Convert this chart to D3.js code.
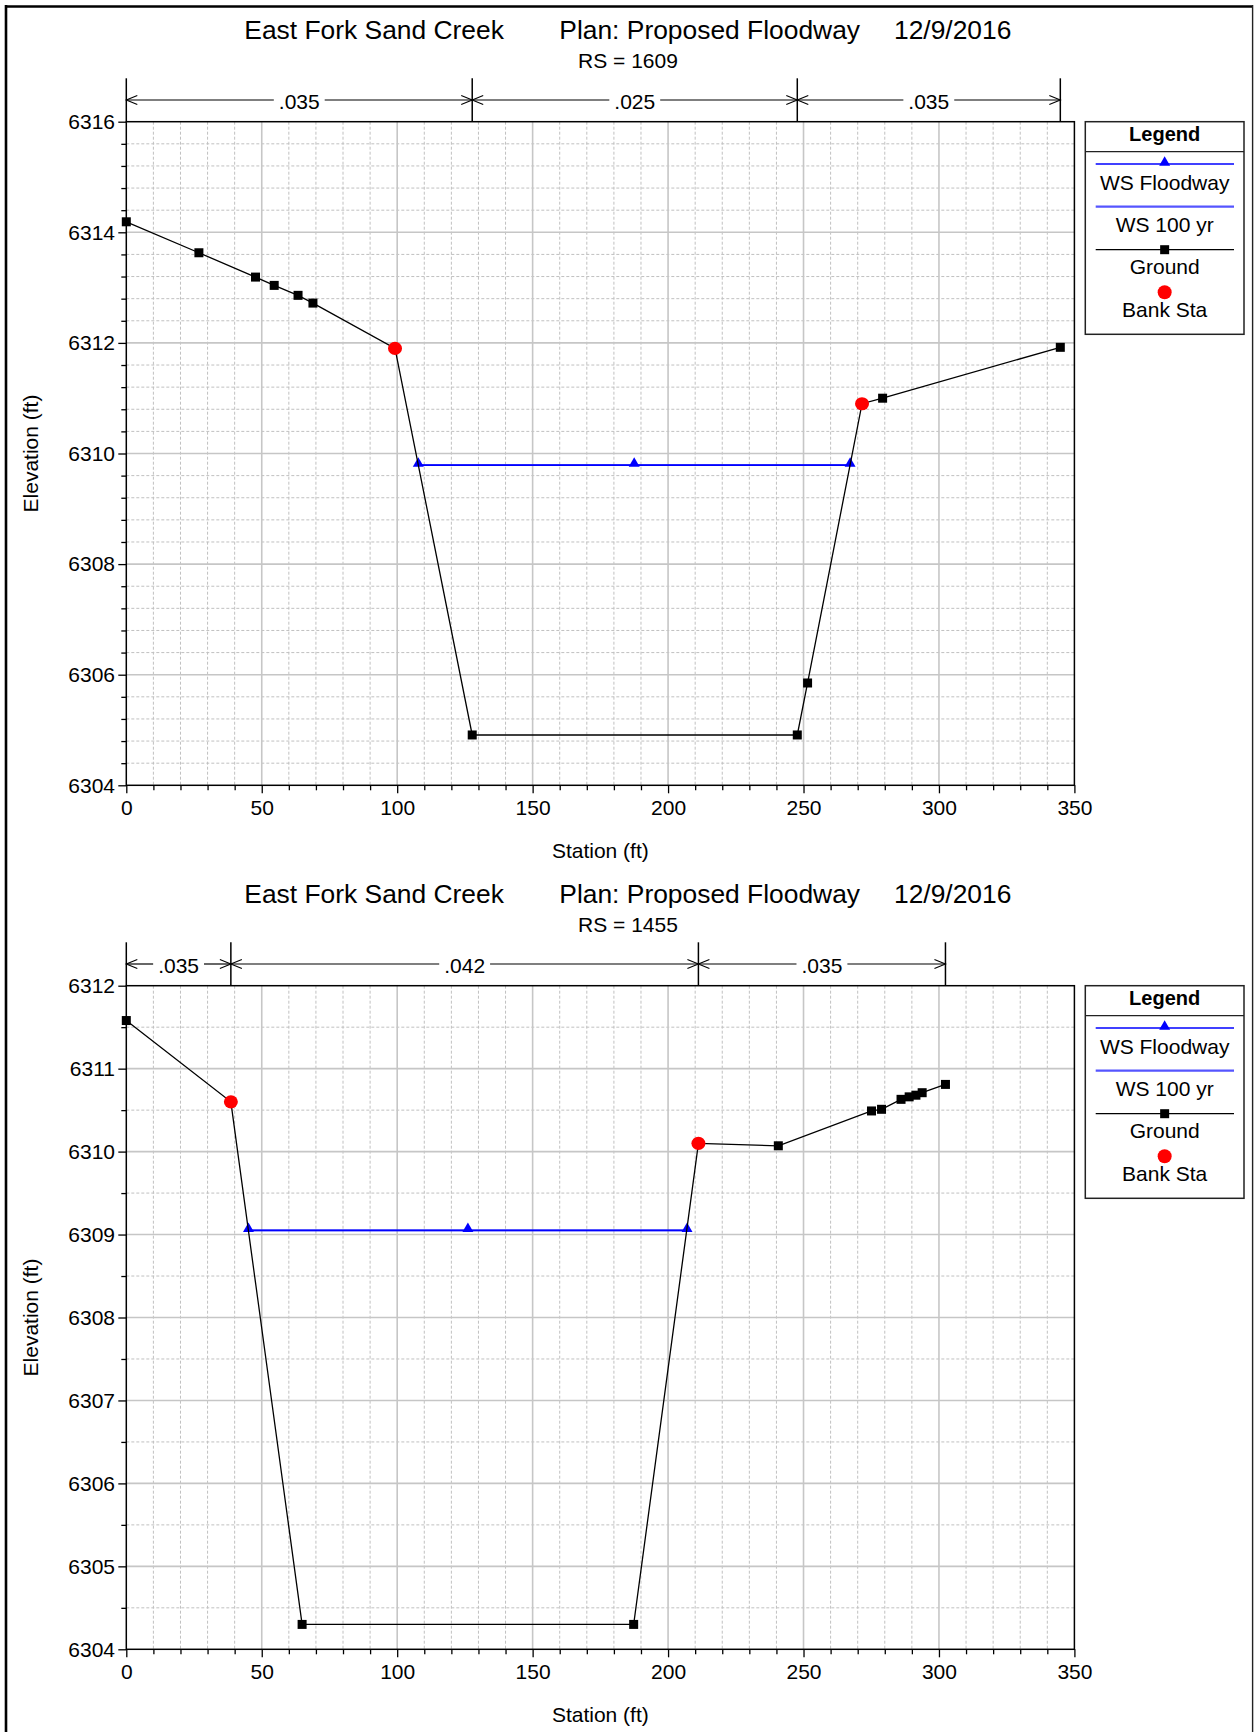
<!DOCTYPE html>
<html>
<head>
<meta charset="utf-8">
<script src="https://cdn.jsdelivr.net/npm/d3@7"></script>
<style>
  body { margin: 0; background: #fff; }
  svg { display: block; }
  text { font-family: "Liberation Sans", Arial, Helvetica, sans-serif; fill: #000; }
</style>
</head>
<body>
<svg id="chart" width="1255" height="1732"></svg>
<script>
// ---- Cross section RS 1609 ----
const rs1609GroundStation = [0, 26.8, 47.7, 54.6, 63.4, 68.9, 99.2, 127.7, 247.7, 251.5, 271.6, 279.2, 344.8];
const rs1609GroundElev    = [6314.19, 6313.63, 6313.19, 6313.04, 6312.86, 6312.72, 6311.90, 6304.91, 6304.91, 6305.85, 6310.90, 6311.00, 6311.92];
const rs1609BankStation   = [99.2, 271.6];
const rs1609BankElev      = [6311.90, 6310.90];
const rs1609WsStation     = [107.8, 187.5, 267.2];
const rs1609WsFloodway    = [6309.79, 6309.79, 6309.79];
const rs1609Ws100yr       = [6309.79, 6309.79, 6309.79];
const rs1609NBreaks       = [0, 127.7, 247.7, 344.8];
const rs1609NValues       = [".035", ".025", ".035"];
const rs1609ElevTicks     = [6304, 6306, 6308, 6310, 6312, 6314, 6316];
const rs1609ElevMinor     = 0.4;

// ---- Cross section RS 1455 ----
const rs1455GroundStation = [0, 38.6, 64.9, 187.3, 211.2, 240.7, 275.1, 278.8, 286.0, 289.0, 291.5, 293.8, 302.4];
const rs1455GroundElev    = [6311.58, 6310.60, 6304.30, 6304.30, 6310.10, 6310.07, 6310.49, 6310.51, 6310.63, 6310.66, 6310.68, 6310.71, 6310.81];
const rs1455BankStation   = [38.6, 211.2];
const rs1455BankElev      = [6310.60, 6310.10];
const rs1455WsStation     = [45.1, 126.1, 207.0];
const rs1455WsFloodway    = [6309.05, 6309.05, 6309.05];
const rs1455Ws100yr       = [6309.05, 6309.05, 6309.05];
const rs1455NBreaks       = [0, 38.6, 211.2, 302.4];
const rs1455NValues       = [".035", ".042", ".035"];
const rs1455ElevTicks     = [6304, 6305, 6306, 6307, 6308, 6309, 6310, 6311, 6312];
const rs1455ElevMinor     = 0.5;

// ---- Shared labels ----
const stationTicks = [0, 50, 100, 150, 200, 250, 300, 350];
const stationMinor = 10;
const titleParts   = ["East Fork Sand Creek", "Plan: Proposed Floodway", "12/9/2016"];
const legendLabels = ["WS Floodway", "WS 100 yr", "Ground", "Bank Sta"];
const xAxisTitle   = "Station (ft)";
const yAxisTitle   = "Elevation (ft)";

const sections = [
  { rs: "1609", gs: rs1609GroundStation, ge: rs1609GroundElev, bs: rs1609BankStation, be: rs1609BankElev,
    ws: rs1609WsStation, wf: rs1609WsFloodway, w100: rs1609Ws100yr, nb: rs1609NBreaks, nv: rs1609NValues,
    ticks: rs1609ElevTicks, minor: rs1609ElevMinor },
  { rs: "1455", gs: rs1455GroundStation, ge: rs1455GroundElev, bs: rs1455BankStation, be: rs1455BankElev,
    ws: rs1455WsStation, wf: rs1455WsFloodway, w100: rs1455Ws100yr, nb: rs1455NBreaks, nv: rs1455NValues,
    ticks: rs1455ElevTicks, minor: rs1455ElevMinor }
];

const svg = d3.select("#chart");
const L = 126.3, R = 1074.4;
const panelOffset = 864;
const GRID_MAJOR = "#c6c6c6", GRID_MINOR = "#c0c0c0";
const BLUE = "#0000ff", BLUE_LIGHT = "#5555ff", RED = "#ff0000";
const TRI = 52, SQ = 9;

// page frame
svg.append("line").attr("x1", 6).attr("x2", 6).attr("y1", 5).attr("y2", 1732).attr("stroke", "#000").attr("stroke-width", 2.6);
svg.append("line").attr("x1", 5).attr("x2", 1253).attr("y1", 6.5).attr("y2", 6.5).attr("stroke", "#000").attr("stroke-width", 2.6);
svg.append("line").attr("x1", 1252.6).attr("x2", 1252.6).attr("y1", 5).attr("y2", 1732).attr("stroke", "#222").attr("stroke-width", 1.4);

function range(a, b, step) {
  const out = [];
  const n = Math.round((b - a) / step);
  for (let i = 0; i <= n; i++) out.push(+(a + i * step).toFixed(6));
  return out;
}

sections.forEach((s, i) => {
  const off = i * panelOffset;
  const top = 121.7 + off, bottom = 785.3 + off;
  const x = d3.scaleLinear().domain([stationTicks[0], stationTicks[stationTicks.length - 1]]).range([L, R]);
  const y = d3.scaleLinear().domain([s.ticks[0], s.ticks[s.ticks.length - 1]]).range([bottom, top]);
  const g = svg.append("g");

  // titles
  const tx = [244.3, 559.3, 894];
  titleParts.forEach((t, k) => {
    g.append("text").attr("x", tx[k]).attr("y", 39.3 + off).attr("font-size", 26.4).text(t);
  });
  g.append("text").attr("x", 628).attr("y", 68.3 + off).attr("text-anchor", "middle")
    .attr("font-size", 21).text("RS = " + s.rs);

  // grid
  const xMinor = range(stationTicks[0], stationTicks[stationTicks.length - 1], stationMinor).filter(v => !stationTicks.includes(v));
  const yMinor = range(s.ticks[0], s.ticks[s.ticks.length - 1], s.minor).filter(v => !s.ticks.some(t => Math.abs(t - v) < 1e-6));
  const grid = g.append("g");
  grid.selectAll(".vx").data(xMinor).join("line")
    .attr("x1", d => x(d)).attr("x2", d => x(d)).attr("y1", top).attr("y2", bottom)
    .attr("stroke", GRID_MINOR).attr("stroke-width", 1).attr("stroke-dasharray", "3,2");
  grid.selectAll(".hy").data(yMinor).join("line")
    .attr("x1", L).attr("x2", R).attr("y1", d => y(d)).attr("y2", d => y(d))
    .attr("stroke", GRID_MINOR).attr("stroke-width", 1).attr("stroke-dasharray", "3,2");
  grid.selectAll(".vX").data(stationTicks.slice(1, -1)).join("line")
    .attr("x1", d => x(d)).attr("x2", d => x(d)).attr("y1", top).attr("y2", bottom)
    .attr("stroke", GRID_MAJOR).attr("stroke-width", 1.6);
  grid.selectAll(".hY").data(s.ticks.slice(1, -1)).join("line")
    .attr("x1", L).attr("x2", R).attr("y1", d => y(d)).attr("y2", d => y(d))
    .attr("stroke", GRID_MAJOR).attr("stroke-width", 1.6);

  // axes
  const xAxis = g.append("g").attr("transform", `translate(0,${bottom})`)
    .call(d3.axisBottom(x).tickValues(stationTicks).tickSize(8).tickPadding(6.8).tickFormat(d3.format("d")));
  const xAxisMinor = g.append("g").attr("transform", `translate(0,${bottom})`)
    .call(d3.axisBottom(x).tickValues(xMinor).tickSize(5).tickFormat(""));
  const yAxis = g.append("g").attr("transform", `translate(${L},0)`)
    .call(d3.axisLeft(y).tickValues(s.ticks).tickSize(8).tickPadding(3.3).tickFormat(d3.format("d")));
  const yAxisMinor = g.append("g").attr("transform", `translate(${L},0)`)
    .call(d3.axisLeft(y).tickValues(yMinor).tickSize(5).tickFormat(""));
  [xAxis, xAxisMinor, yAxis, yAxisMinor].forEach(a => {
    a.select(".domain").remove();
    a.selectAll("line").attr("stroke", "#000").attr("stroke-width", 1.3);
    a.selectAll("text").attr("font-size", 21).attr("font-family", null).style("fill", "#000");
  });

  // axis titles
  g.append("text").attr("x", (L + R) / 2).attr("y", 858.3 + off).attr("text-anchor", "middle")
    .attr("font-size", 21).text(xAxisTitle);
  g.append("text").attr("transform", `translate(38,${(top + bottom) / 2}) rotate(-90)`)
    .attr("text-anchor", "middle").attr("font-size", 21).text(yAxisTitle);

  // Manning's n bracket
  const by = 100 + off, vTop = 78.3 + off;
  const br = g.append("g").attr("stroke", "#000").attr("fill", "none");
  s.nb.forEach(v => {
    br.append("line").attr("x1", x(v)).attr("x2", x(v)).attr("y1", vTop).attr("y2", top).attr("stroke-width", 1.5);
  });
  s.nv.forEach((lab, k) => {
    const xa = x(s.nb[k]), xb = x(s.nb[k + 1]), cx = (xa + xb) / 2;
    const t = g.append("text").attr("x", cx).attr("y", by + 9).attr("text-anchor", "middle")
      .attr("font-size", 21).text(lab);
    const w = t.node().getComputedTextLength();
    br.append("line").attr("x1", xa).attr("x2", cx - w / 2 - 5).attr("y1", by).attr("y2", by).attr("stroke-width", 1.2);
    br.append("line").attr("x1", cx + w / 2 + 5).attr("x2", xb).attr("y1", by).attr("y2", by).attr("stroke-width", 1.2);
    br.append("path").attr("d", `M${xa + 11},${by - 4.5}L${xa},${by}L${xa + 11},${by + 4.5}`).attr("stroke-width", 1.1);
    br.append("path").attr("d", `M${xb - 11},${by - 4.5}L${xb},${by}L${xb - 11},${by + 4.5}`).attr("stroke-width", 1.1);
  });

  // data
  const line = d3.line().x(d => x(d[0])).y(d => y(d[1]));
  const w100 = s.ws.map((v, k) => [v, s.w100[k]]);
  const wf = s.ws.map((v, k) => [v, s.wf[k]]);
  const ground = s.gs.map((v, k) => [v, s.ge[k]]);
  const banks = s.bs.map((v, k) => [v, s.be[k]]);

  g.append("path").datum(w100).attr("d", line).attr("fill", "none").attr("stroke", BLUE_LIGHT).attr("stroke-width", 1.6);
  g.append("path").datum(wf).attr("d", line).attr("fill", "none").attr("stroke", BLUE).attr("stroke-width", 1.6);
  g.selectAll(".tri").data(wf).join("path")
    .attr("transform", d => `translate(${x(d[0])},${y(d[1]) - 1.5})`)
    .attr("d", d3.symbol(d3.symbolTriangle, TRI)).attr("fill", BLUE);

  g.append("path").datum(ground).attr("d", line).attr("fill", "none").attr("stroke", "#000").attr("stroke-width", 1.3);
  g.selectAll(".sq").data(ground).join("rect")
    .attr("x", d => x(d[0]) - SQ / 2).attr("y", d => y(d[1]) - SQ / 2).attr("width", SQ).attr("height", SQ).attr("fill", "#000");
  g.selectAll(".bank").data(banks).join("ellipse")
    .attr("cx", d => x(d[0])).attr("cy", d => y(d[1])).attr("rx", 7).attr("ry", 6.6).attr("fill", RED);

  // plot frame
  g.append("rect").attr("x", L).attr("y", top).attr("width", R - L).attr("height", bottom - top)
    .attr("fill", "none").attr("stroke", "#000").attr("stroke-width", 1.5);

  // legend
  const lx0 = 1085.3, lx1 = 1244, lt = top, lcx = (lx0 + lx1) / 2;
  const lg = g.append("g");
  lg.append("rect").attr("x", lx0).attr("y", lt).attr("width", lx1 - lx0).attr("height", 212.6)
    .attr("fill", "#fff").attr("stroke", "#222").attr("stroke-width", 1.5);
  lg.append("line").attr("x1", lx0).attr("x2", lx1).attr("y1", lt + 30).attr("y2", lt + 30).attr("stroke", "#222").attr("stroke-width", 1.3);
  lg.append("text").attr("x", lcx).attr("y", lt + 19.5).attr("text-anchor", "middle").attr("font-size", 20)
    .attr("font-weight", "bold").text("Legend");
  const sx0 = 1095.7, sx1 = 1234;
  lg.append("line").attr("x1", sx0).attr("x2", sx1).attr("y1", lt + 42.3).attr("y2", lt + 42.3).attr("stroke", BLUE).attr("stroke-width", 1.6);
  lg.append("path").attr("transform", `translate(${lcx},${lt + 40.8})`).attr("d", d3.symbol(d3.symbolTriangle, TRI)).attr("fill", BLUE);
  lg.append("line").attr("x1", sx0).attr("x2", sx1).attr("y1", lt + 85).attr("y2", lt + 85).attr("stroke", BLUE_LIGHT).attr("stroke-width", 2.2);
  lg.append("line").attr("x1", sx0).attr("x2", sx1).attr("y1", lt + 128).attr("y2", lt + 128).attr("stroke", "#000").attr("stroke-width", 1.3);
  lg.append("rect").attr("x", lcx - SQ / 2).attr("y", lt + 128 - SQ / 2).attr("width", SQ).attr("height", SQ).attr("fill", "#000");
  lg.append("circle").attr("cx", lcx).attr("cy", lt + 170.6).attr("r", 7).attr("fill", RED);
  const labY = [68.3, 110.3, 152.6, 195.6];
  legendLabels.forEach((t, k) => {
    lg.append("text").attr("x", lcx).attr("y", lt + labY[k]).attr("text-anchor", "middle").attr("font-size", 21).text(t);
  });
});
</script>
</body>
</html>
